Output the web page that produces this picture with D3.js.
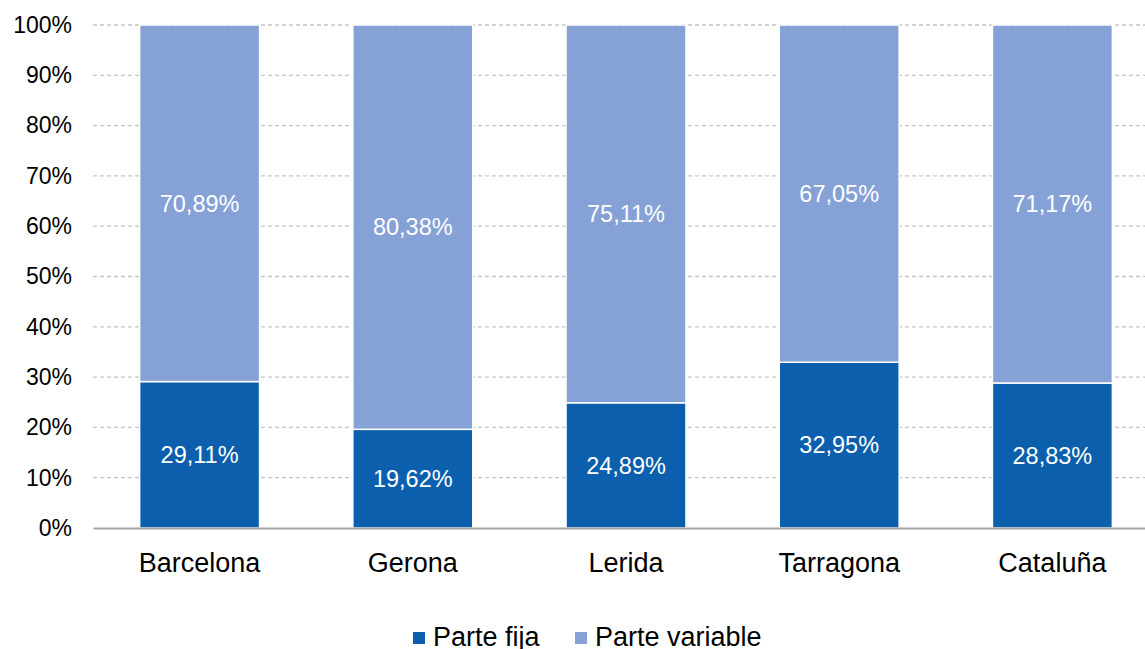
<!DOCTYPE html>
<html>
<head>
<meta charset="utf-8">
<script src="https://cdn.jsdelivr.net/npm/d3@7/dist/d3.min.js"></script>
<style>
  html, body { margin: 0; padding: 0; background: #fff; }
  svg { display: block; font-family: "Liberation Sans", Arial, sans-serif; }
</style>
</head>
<body>
<div id="chart-area"></div>
<script>
const provincias = ["Barcelona", "Gerona", "Lerida", "Tarragona", "Cataluña"];
const parteFija = [29.11, 19.62, 24.89, 32.95, 28.83];
const parteVariable = [70.89, 80.38, 75.11, 67.05, 71.17];
const yTicks = [0, 10, 20, 30, 40, 50, 60, 70, 80, 90, 100];
const seriesNames = ["Parte fija", "Parte variable"];
const colores = ["#0b5fad", "#85a1d6"];

const width = 1145;
const height = 649;
const margin = { top: 25, right: -14, bottom: 121, left: 93 };
const innerW = width - margin.left - margin.right;
const innerH = height - margin.top - margin.bottom;

const svg = d3.select("#chart-area")
    .append("svg")
    .attr("width", width)
    .attr("height", height);

const g = svg.append("g")
    .attr("transform", `translate(${margin.left},${margin.top})`);

// Escalas
const x = d3.scaleBand()
    .domain(provincias)
    .range([0, innerW])
    .paddingInner(0.4375)
    .paddingOuter(0.21875);

const y = d3.scaleLinear()
    .domain([0, 100])
    .range([innerH, 0]);

// Rejilla
g.append("g")
    .selectAll("line")
    .data(yTicks.filter(d => d > 0))
    .enter()
    .append("line")
    .attr("x1", 0)
    .attr("x2", innerW)
    .attr("y1", d => y(d))
    .attr("y2", d => y(d))
    .attr("stroke", "#c4c4c4")
    .attr("stroke-width", 1.3)
    .attr("stroke-dasharray", "4,3");

// Eje Y
const leftAxis = d3.axisLeft(y).tickValues(yTicks).tickSize(0).tickPadding(21).tickFormat(d => `${d}%`);
g.append("g")
    .attr("class", "left axis")
    .call(leftAxis)
    .call(s => s.select(".domain").remove())
    .selectAll("text")
    .attr("font-size", "23px")
    .attr("font-family", "Liberation Sans, Arial, sans-serif")
    .attr("fill", "#000");

// Datos apilados
const data = provincias.map((p, i) => ({ provincia: p, fija: parteFija[i], variable: parteVariable[i] }));
const stack = d3.stack().keys(["fija", "variable"]);
const series = stack(data);

const layers = g.selectAll(".layer")
    .data(series)
    .enter()
    .append("g")
    .attr("class", "layer")
    .attr("fill", (d, i) => colores[i]);

layers.selectAll("rect")
    .data(d => d)
    .enter()
    .append("rect")
    .attr("x", d => x(d.data.provincia))
    .attr("y", d => y(d[1]))
    .attr("width", x.bandwidth())
    .attr("height", d => y(d[0]) - y(d[1]))
    .attr("stroke", "#fff")
    .attr("stroke-width", 1.5);

layers.selectAll("text")
    .data(d => d)
    .enter()
    .append("text")
    .attr("x", d => x(d.data.provincia) + x.bandwidth() / 2)
    .attr("y", d => y((d[0] + d[1]) / 2))
    .attr("dy", "0.35em")
    .attr("text-anchor", "middle")
    .attr("font-size", "23.5px")
    .attr("fill", "#fff")
    .text(d => `${(d[1] - d[0]).toFixed(2).replace(".", ",")}%`);

// Eje X
const bottomAxis = d3.axisBottom(x).tickSize(0).tickPadding(25);
g.append("g")
    .attr("class", "bottom axis")
    .attr("transform", `translate(0,${innerH})`)
    .call(bottomAxis)
    .call(s => s.select(".domain").attr("stroke", "#a6a6a6").attr("stroke-width", 2))
    .selectAll("text")
    .attr("font-size", "27px")
    .attr("font-family", "Liberation Sans, Arial, sans-serif")
    .attr("fill", "#000");

// Leyenda
const legendX = [413, 575];
const legend = svg.append("g");
seriesNames.forEach((name, i) => {
    legend.append("rect")
        .attr("x", legendX[i])
        .attr("y", 632)
        .attr("width", 12)
        .attr("height", 12)
        .attr("fill", colores[i]);
    legend.append("text")
        .attr("x", legendX[i] + 20)
        .attr("y", 646)
        .attr("font-size", "27px")
        .attr("fill", "#000")
        .text(name);
});
</script>
</body>
</html>
